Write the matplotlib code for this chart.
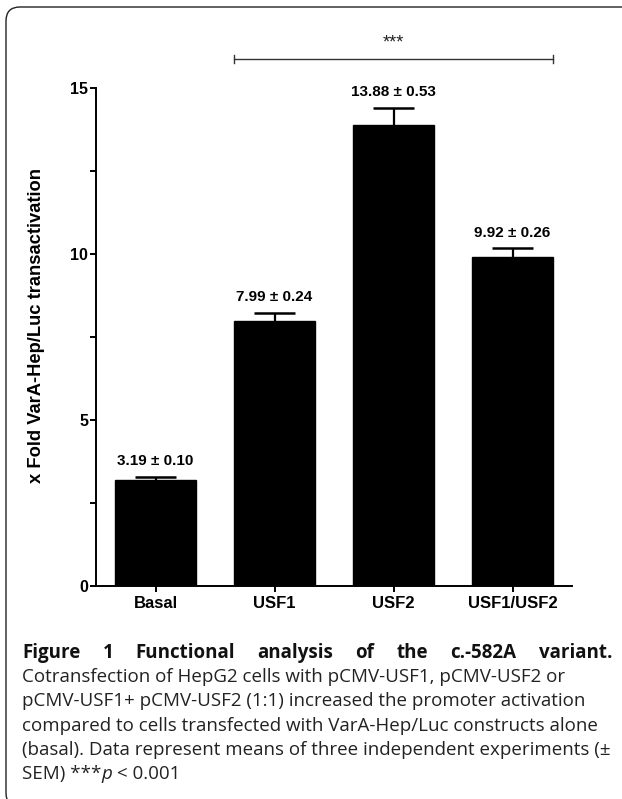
import matplotlib
matplotlib.use("Agg")
import matplotlib.pyplot as plt
from matplotlib.patches import FancyBboxPatch
from matplotlib.transforms import IdentityTransform
from matplotlib.ticker import MultipleLocator

# ---- data ----
categories = ["Basal", "USF1", "USF2", "USF1/USF2"]
means = [3.19, 7.99, 13.88, 9.92]
sems = [0.10, 0.24, 0.53, 0.26]
yticks = [0, 5, 10, 15]
ylabel = "x Fold VarA-Hep/Luc transactivation"
sig_text = "***"
caption_title_words = ["Figure", "1", "Functional", "analysis", "of", "the", "c.-582A", "variant."]
caption_lines = [
    "Cotransfection of HepG2 cells with pCMV-USF1, pCMV-USF2 or",
    "pCMV-USF1+ pCMV-USF2 (1:1) increased the promoter activation",
    "compared to cells transfected with VarA-Hep/Luc constructs alone",
    "(basal). Data represent means of three independent experiments (\u00b1",
]
caption_last = ["SEM) ***", "p", " < 0.001"]

W, H = 622, 799
fig = plt.figure(figsize=(W / 100, H / 100), dpi=100)
fig.patch.set_facecolor("white")

def fx(px):
    return px / W

def fy(py):
    return 1 - py / H

# axes in pixel layout
ax_l, ax_r, ax_t, ax_b = 96, 572, 88, 586
ax = fig.add_axes([fx(ax_l), fy(ax_b), fx(ax_r - ax_l), (ax_b - ax_t) / H])

x = list(range(len(categories)))
bw = 0.674
cw = 0.17
tops = [m + e for m, e in zip(means, sems)]
ax.bar(x, means, width=bw, color="black", edgecolor="black", zorder=2)
ax.vlines(x, means, tops, color="black", lw=1.6, zorder=3)
ax.hlines(tops, [xi - cw for xi in x], [xi + cw for xi in x], color="black", lw=1.8, zorder=3)

for xi, t, m, e in zip(x, tops, means, sems):
    ax.annotate(f"{m:.2f} \u00b1 {e:.2f}", (xi, t), xytext=(0, 6),
                textcoords="offset points", ha="center", va="bottom",
                fontsize=11, fontweight="bold", family="Liberation Sans",
                annotation_clip=False)

ax.set_xlim(-0.5, 3.5)
ax.set_ylim(0, 15)
ax.set_yticks(yticks)
ax.yaxis.set_minor_locator(MultipleLocator(2.5))
ax.set_xticks(x)
ax.set_xticklabels(categories)
for lab in ax.get_xticklabels():
    lab.set_fontweight("bold"); lab.set_fontsize(12); lab.set_family("Liberation Sans")
for lab in ax.get_yticklabels():
    lab.set_fontweight("bold"); lab.set_fontsize(11.5); lab.set_family("Liberation Sans")
ax.tick_params(axis="y", which="both", length=4, width=1.4, pad=1.5)
ax.tick_params(axis="x", which="both", length=4, width=1.4, pad=3)
for s in ["top", "right"]:
    ax.spines[s].set_visible(False)
for s in ["left", "bottom"]:
    ax.spines[s].set_linewidth(1.4)
ax.set_facecolor("none")

# significance bracket
yb = 15.87
x0, x1 = 1 - bw / 2, 3 + bw / 2
ax.plot([x0, x1], [yb, yb], color="#333333", lw=1.0, clip_on=False)
for xe in (x0, x1):
    ax.plot([xe, xe], [yb - 0.13, yb + 0.13], color="#333333", lw=1.0, clip_on=False)
ax.text(2.0, yb + 0.22, sig_text, ha="center", va="bottom", fontsize=13,
        family="Liberation Sans", color="#222222")

fig.text(fx(37), fy(326), ylabel, rotation=90, ha="center", va="center",
         fontsize=13.2, fontweight="bold", family="Liberation Sans")

# frame with rounded corner
frame = FancyBboxPatch((6, -8), 700, H - 7 + 8, boxstyle="round,pad=0,rounding_size=14",
                       transform=IdentityTransform(), fill=False, edgecolor="#222222",
                       lw=1.0, clip_on=False)
fig.patches.append(frame)

# caption
renderer = fig.canvas.get_renderer()
cap_font = "Open Sans"
x_start = 22
probe = fig.text(0, 0, caption_lines[2], fontsize=12, family=cap_font)
w = probe.get_window_extent(renderer).width
probe.remove()
cap_size = 12 * (594 - x_start) / w

line_centers = [651, 675.3, 699.6, 723.9, 748.2, 772.5]
base_off = 0.36 * cap_size * 100 / 72

# justified bold title
words = []
tot = 0
for wd in caption_title_words:
    t = fig.text(0, fy(line_centers[0] + base_off), wd, fontsize=cap_size, family=cap_font,
                 fontweight="bold", va="baseline", ha="left", color="#111111")
    ww = t.get_window_extent(renderer).width
    words.append((t, ww))
    tot += ww
gap = (612 - x_start - tot) / (len(words) - 1)
cx = x_start
for t, ww in words:
    t.set_x(fx(cx))
    cx += ww + gap

for i, line in enumerate(caption_lines):
    fig.text(fx(x_start), fy(line_centers[i + 1] + base_off), line, fontsize=cap_size,
             family=cap_font, va="baseline", ha="left", color="#222222")

cx = x_start
for piece in caption_last:
    t = fig.text(fx(cx), fy(line_centers[5] + base_off), piece, fontsize=cap_size,
                 family=cap_font, va="baseline", ha="left", color="#222222",
                 style="italic" if piece == "p" else "normal")
    cx += t.get_window_extent(renderer).width

fig.savefig("out.png", dpi=100)
